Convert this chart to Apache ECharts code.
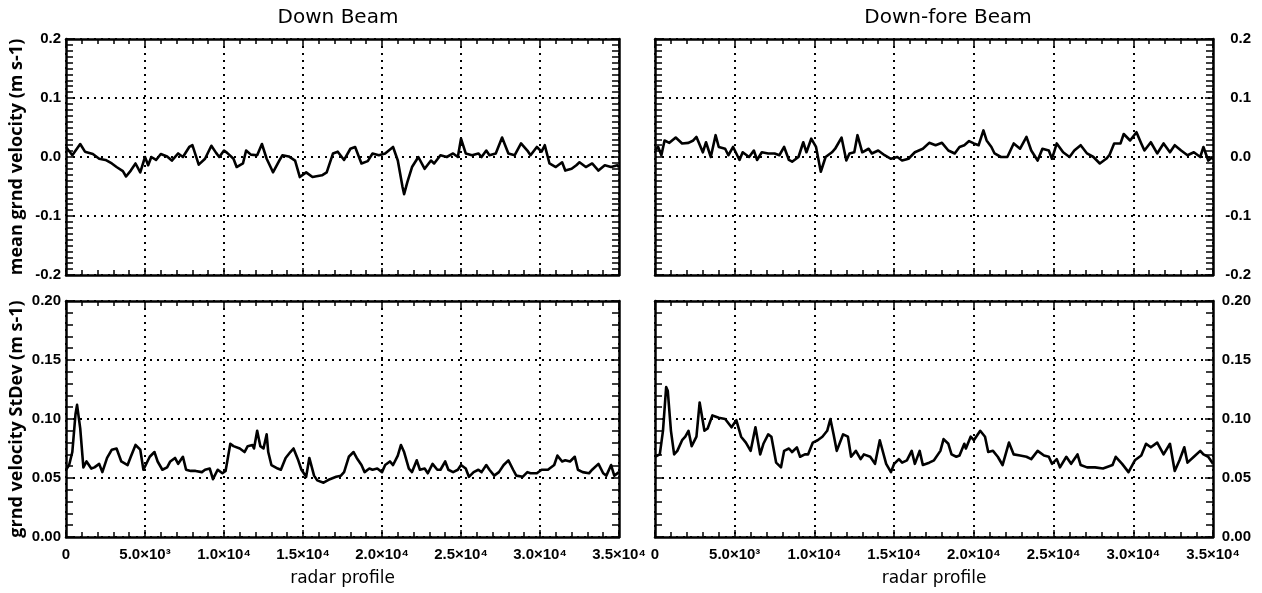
<!DOCTYPE html>
<html>
<head>
<meta charset="utf-8">
<script src="https://cdn.jsdelivr.net/npm/echarts@6/dist/echarts.min.js"></script>
<style>
  html, body { margin: 0; padding: 0; background: #fff; }
  #chart { width: 1262px; height: 593px; }
</style>
</head>
<body>
<div id="chart"></div>
<script>
// Radar profile positions and values, one pair of arrays per curve.

// Down Beam, mean ground velocity (m s-1)
const downMeanX = [0,400,900,1200,1700,2100,2500,2900,3200,3600,3800,4100,4400,4700,5000,5200,5400,5700,6000,6400,6700,7100,7400,7800,8000,8400,8800,9200,9500,9700,10000,10200,10600,10800,11200,11400,11700,12100,12400,12700,13000,13100,13500,13700,14100,14500,14800,15200,15600,16200,16500,16900,17200,17600,18000,18300,18700,19100,19400,19800,20200,20700,21000,21300,21400,21600,21900,22300,22700,23100,23300,23700,24100,24500,24800,25000,25300,25700,26100,26300,26600,26800,27200,27600,28000,28400,28800,29200,29400,29800,30100,30300,30600,31000,31400,31600,32000,32300,32500,32900,33300,33700,34100,34500,34900,35000];
const downMeanY = [0.017,0.003,0.022,0.009,0.005,-0.003,-0.005,-0.011,-0.017,-0.024,-0.033,-0.023,-0.011,-0.026,0.000,-0.014,0.000,-0.005,0.005,0.001,-0.006,0.006,0.000,0.017,0.020,-0.013,-0.003,0.019,0.007,0.000,0.011,0.007,-0.003,-0.017,-0.011,0.011,0.004,0.003,0.022,-0.003,-0.020,-0.026,-0.006,0.003,0.001,-0.006,-0.034,-0.026,-0.034,-0.031,-0.026,0.006,0.009,-0.005,0.014,0.017,-0.011,-0.007,0.006,0.003,0.006,0.017,-0.006,-0.051,-0.063,-0.043,-0.017,0.000,-0.020,-0.006,-0.011,0.003,0.000,0.006,0.000,0.031,0.006,0.003,0.006,0.000,0.011,0.003,0.006,0.033,0.006,0.003,0.023,0.011,0.003,0.017,0.009,0.020,-0.011,-0.017,-0.009,-0.023,-0.020,-0.014,-0.009,-0.017,-0.011,-0.023,-0.014,-0.017,-0.014,-0.017];

// Down-fore Beam, mean ground velocity (m s-1)
const foreMeanX = [0,200,400,600,900,1300,1700,2100,2400,2600,3000,3200,3500,3800,4000,4400,4600,4900,5300,5500,5900,6200,6400,6700,7100,7500,7800,8100,8400,8600,9000,9300,9500,9800,10100,10400,10700,11100,11300,11700,12000,12200,12500,12700,13000,13400,13600,14000,14400,14800,15200,15500,15900,16300,16800,17200,17600,18000,18400,18800,19100,19400,19700,20000,20300,20600,20800,21100,21300,21700,22100,22500,22900,23300,23600,24000,24300,24700,24900,25200,25600,26000,26300,26700,27100,27500,27900,28300,28500,28800,29200,29400,29800,30200,30500,30700,31100,31500,31900,32300,32600,33000,33400,33800,34200,34400,34700,35000];
const foreMeanY = [0.011,0.017,0.003,0.028,0.024,0.033,0.023,0.024,0.028,0.034,0.008,0.025,0.000,0.037,0.017,0.014,0.003,0.017,-0.005,0.008,0.000,0.011,-0.005,0.008,0.006,0.006,0.003,0.017,-0.005,-0.008,0.000,0.025,0.008,0.031,0.017,-0.025,0.000,0.008,0.014,0.033,-0.006,0.006,0.008,0.037,0.008,0.014,0.006,0.011,0.003,-0.003,0.000,-0.006,-0.003,0.008,0.014,0.024,0.020,0.024,0.011,0.006,0.017,0.020,0.027,0.023,0.020,0.045,0.028,0.017,0.006,0.000,0.000,0.023,0.014,0.034,0.011,-0.006,0.014,0.011,-0.003,0.023,0.008,0.000,0.011,0.020,0.006,0.000,-0.011,-0.003,0.003,0.023,0.023,0.039,0.028,0.042,0.023,0.011,0.025,0.006,0.023,0.008,0.020,0.011,0.003,0.008,0.000,0.017,-0.006,0.000];

// Down Beam, ground velocity standard deviation (m s-1)
const downStdX = [0,200,400,600,700,900,1100,1300,1600,1800,2100,2300,2600,2900,3200,3500,3900,4100,4400,4700,4900,5300,5600,5800,6100,6400,6600,6900,7100,7400,7600,7900,8200,8600,8800,9100,9300,9600,9900,10100,10400,10600,11000,11300,11500,11800,11900,12100,12300,12500,12700,12800,13000,13400,13600,13900,14200,14400,14700,14900,15200,15400,15700,15900,16300,16700,17100,17400,17600,17900,18200,18400,18700,18900,19200,19400,19700,20000,20200,20500,20700,21000,21200,21400,21700,21900,22200,22400,22700,22900,23200,23500,23700,24000,24200,24500,24800,25000,25300,25500,25800,26100,26300,26600,26800,27100,27400,27700,28000,28300,28500,28900,29200,29400,29800,30100,30500,30900,31100,31400,31600,31900,32200,32400,32700,33100,33300,33700,34000,34200,34500,34700,35000];
const downStdY = [0.057,0.061,0.072,0.104,0.112,0.092,0.059,0.064,0.058,0.059,0.062,0.055,0.067,0.074,0.075,0.064,0.061,0.068,0.078,0.074,0.057,0.068,0.072,0.064,0.057,0.059,0.064,0.067,0.062,0.068,0.057,0.056,0.056,0.055,0.057,0.058,0.049,0.057,0.054,0.056,0.079,0.077,0.075,0.072,0.077,0.078,0.075,0.090,0.077,0.075,0.087,0.072,0.061,0.058,0.057,0.067,0.072,0.075,0.065,0.057,0.051,0.067,0.052,0.048,0.046,0.049,0.051,0.052,0.055,0.068,0.072,0.067,0.061,0.055,0.058,0.057,0.058,0.055,0.061,0.064,0.061,0.069,0.078,0.072,0.058,0.055,0.065,0.057,0.058,0.054,0.062,0.057,0.057,0.064,0.057,0.055,0.057,0.061,0.058,0.051,0.055,0.057,0.055,0.061,0.057,0.052,0.055,0.061,0.065,0.057,0.052,0.051,0.055,0.054,0.054,0.057,0.057,0.061,0.069,0.064,0.065,0.064,0.068,0.057,0.055,0.054,0.057,0.062,0.054,0.052,0.061,0.052,0.055];

// Down-fore Beam, ground velocity standard deviation (m s-1)
const foreStdX = [0,300,500,700,800,1000,1200,1400,1700,1900,2100,2300,2600,2800,3100,3300,3600,4000,4400,4800,5100,5400,5700,6000,6300,6600,6800,7100,7300,7600,7900,8100,8400,8600,8900,9100,9400,9600,9900,10200,10500,10800,11000,11200,11400,11800,12100,12300,12600,12900,13100,13500,13800,14100,14500,14800,15000,15300,15500,15800,16100,16300,16600,16800,17200,17500,17900,18100,18400,18600,18900,19100,19400,19500,19800,20000,20400,20700,20900,21200,21500,21800,22200,22500,22900,23300,23600,24000,24400,24700,24900,25200,25400,25800,26100,26500,26700,27100,27600,28100,28700,28900,29300,29700,30100,30500,30800,31100,31500,31900,32300,32600,32900,33200,33400,33800,34200,34400,34700,35000];
const foreStdY = [0.068,0.070,0.090,0.127,0.124,0.090,0.070,0.073,0.082,0.085,0.090,0.077,0.085,0.114,0.090,0.092,0.103,0.101,0.100,0.093,0.099,0.085,0.080,0.073,0.093,0.070,0.079,0.087,0.085,0.063,0.059,0.073,0.075,0.072,0.076,0.068,0.070,0.070,0.080,0.082,0.085,0.090,0.100,0.087,0.073,0.087,0.085,0.068,0.073,0.066,0.070,0.068,0.062,0.082,0.062,0.055,0.062,0.066,0.063,0.065,0.073,0.062,0.073,0.061,0.063,0.065,0.073,0.083,0.079,0.070,0.068,0.069,0.079,0.075,0.085,0.082,0.090,0.085,0.072,0.073,0.068,0.061,0.080,0.070,0.069,0.068,0.066,0.073,0.069,0.068,0.062,0.066,0.059,0.068,0.062,0.070,0.061,0.059,0.059,0.058,0.061,0.068,0.062,0.055,0.065,0.069,0.079,0.076,0.080,0.070,0.079,0.056,0.065,0.076,0.063,0.068,0.073,0.070,0.068,0.062];

// Tick labels
const xTickLabels = ['0', '5.0×10³', '1.0×10⁴', '1.5×10⁴', '2.0×10⁴', '2.5×10⁴', '3.0×10⁴', '3.5×10⁴'];
const meanTickLabels = ['-0.2', '-0.1', '0.0', '0.1', '0.2'];
const stdTickLabels = ['0.00', '0.05', '0.10', '0.15', '0.20'];

// Titles and axis names
const columnTitles = ['Down Beam', 'Down-fore Beam'];
const rowNames = ['mean grnd velocity (m s-1)', 'grnd velocity StDev (m s-1)'];
const xName = 'radar profile';

// Panel layout: [row][col]
const gridBoxes = [
  [{ left: 66, top: 39, width: 553, height: 236 }, { left: 655, top: 39, width: 558, height: 236 }],
  [{ left: 66, top: 301, width: 553, height: 236 }, { left: 655, top: 301, width: 558, height: 236 }]
];

const curves = [
  [{ x: downMeanX, y: downMeanY }, { x: foreMeanX, y: foreMeanY }],
  [{ x: downStdX, y: downStdY }, { x: foreStdX, y: foreStdY }]
];

const yScales = [
  { min: -0.2, max: 0.2, interval: 0.1, minorSplit: 10, labels: meanTickLabels },
  { min: 0, max: 0.2, interval: 0.05, minorSplit: 5, labels: stdTickLabels }
];

const BLACK = '#000';
const tickFont = { fontFamily: "'Liberation Sans', Arial, sans-serif", fontWeight: 'bold', fontSize: 15, color: BLACK };
const frameLine = { show: true, onZero: false, lineStyle: { color: BLACK, width: 2.5 } };
const dotted = { show: true, lineStyle: { color: BLACK, width: 2, type: [2, 5] } };

const grids = [], xAxes = [], yAxes = [], series = [];

for (let r = 0; r < 2; r++) {
  for (let c = 0; c < 2; c++) {
    const gi = grids.length;
    grids.push(Object.assign({ containLabel: false }, gridBoxes[r][c]));
    const ys = yScales[r];

    const xBase = {
      type: 'value', gridIndex: gi, min: 0, max: 35000, interval: 5000,
      axisLine: frameLine,
      axisTick: { show: true, inside: true, length: 7, lineStyle: { color: BLACK, width: 1.5 } },
      minorTick: { show: true, splitNumber: 5, length: 5, lineStyle: { color: BLACK, width: 1.5 } }
    };
    // bottom x axis
    xAxes.push(Object.assign({}, xBase, {
      position: 'bottom',
      splitLine: dotted,
      axisLabel: {
        show: r === 1, margin: 10, showMinLabel: true, showMaxLabel: true, hideOverlap: false,
        ...tickFont,
        formatter: v => xTickLabels[Math.round(v / 5000)]
      },
      name: r === 1 ? xName : '',
      nameLocation: 'middle', nameGap: 33,
      nameTextStyle: { fontFamily: "'DejaVu Sans', sans-serif", fontSize: 17, color: BLACK }
    }));
    // top x axis (frame + ticks only)
    xAxes.push(Object.assign({}, xBase, {
      position: 'top', splitLine: { show: false }, axisLabel: { show: false }
    }));

    const yBase = {
      type: 'value', gridIndex: gi, min: ys.min, max: ys.max, interval: ys.interval,
      axisLine: frameLine,
      axisTick: { show: true, inside: true, length: 8, lineStyle: { color: BLACK, width: 1.5 } },
      minorTick: { show: true, splitNumber: ys.minorSplit, length: 7, lineStyle: { color: BLACK, width: 1.5 } }
    };
    const yLabel = {
      ...tickFont, showMinLabel: true, showMaxLabel: true, hideOverlap: false,
      formatter: v => ys.labels[Math.round((v - ys.min) / ys.interval)]
    };
    // left y axis
    yAxes.push(Object.assign({}, yBase, {
      position: 'left',
      splitLine: dotted,
      axisLabel: Object.assign({ show: c === 0, margin: 5 }, yLabel),
      name: c === 0 ? rowNames[r] : '',
      nameLocation: 'middle', nameRotate: 90, nameGap: 40,
      nameTextStyle: { fontFamily: "'Open Sans', sans-serif", fontWeight: 'bold', fontSize: 18, color: BLACK }
    }));
    // right y axis
    yAxes.push(Object.assign({}, yBase, {
      position: 'right',
      splitLine: { show: false },
      axisLabel: Object.assign({ show: c === 1, margin: 38, align: 'right' }, yLabel)
    }));

    const cv = curves[r][c];
    series.push({
      type: 'line',
      xAxisIndex: 2 * gi,
      yAxisIndex: 2 * gi,
      data: cv.x.map((x, i) => [x, cv.y[i]]),
      showSymbol: false,
      symbol: 'none',
      smooth: false,
      lineStyle: { color: BLACK, width: 2.6, join: 'round' },
      silent: true,
      z: 5
    });
  }
}

const titleStyle = { fontFamily: "'DejaVu Sans', sans-serif", fontSize: 20, fontWeight: 'normal', color: BLACK };

const chart = echarts.init(document.getElementById('chart'), null, { renderer: 'canvas' });
chart.setOption({
  animation: false,
  backgroundColor: '#fff',
  title: [
    { text: columnTitles[0], left: 333, top: 3, textAlign: 'center', textStyle: titleStyle },
    { text: columnTitles[1], left: 943, top: 3, textAlign: 'center', textStyle: titleStyle }
  ],
  grid: grids,
  xAxis: xAxes,
  yAxis: yAxes,
  series: series
});
</script>
</body>
</html>
